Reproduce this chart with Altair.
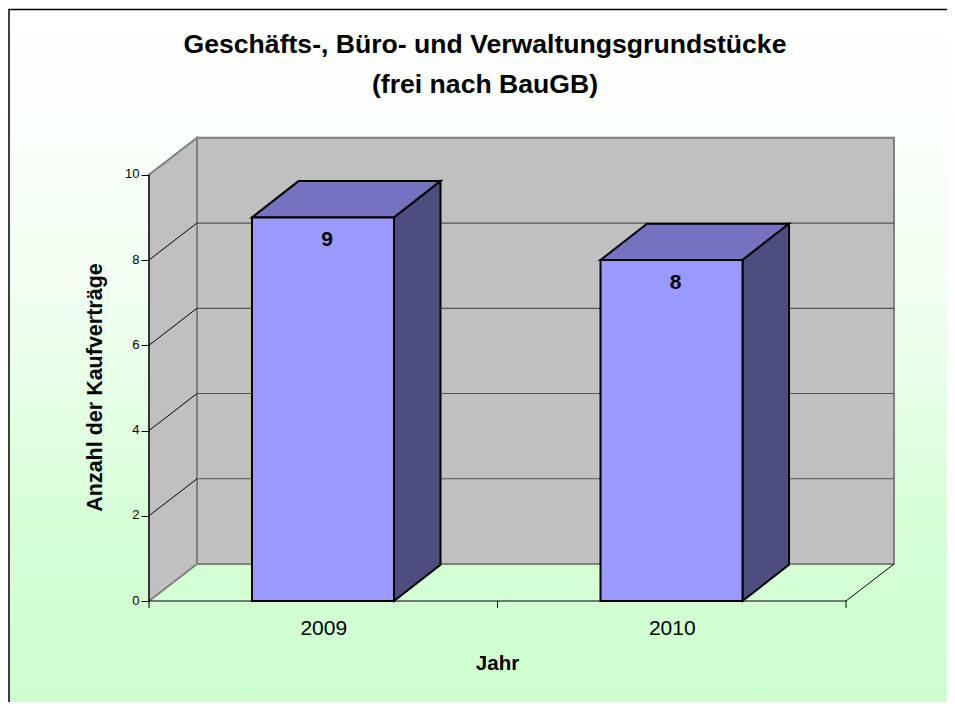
import altair as alt
import pandas as pd

years = ["2009", "2010"]
values = [9, 8]
y_ticks = [0, 2, 4, 6, 8, 10]
title_lines = ["Geschäfts-, Büro- und Verwaltungsgrundstücke", "(frei nach BauGB)"]
x_title = "Jahr"
y_title = "Anzahl der Kaufverträge"

# layout in pixels of the page
PX_X0, PX_Y0 = 149.0, 600.5
PX_CAT, PX_UNIT = 348.5, 42.62
W, H = 746, 464
PAD_L, PAD_T = 141, 129
TOTAL_W, TOTAL_H = 939, 694
DX, DY = 48.0 / PX_CAT, 37.0 / PX_UNIT
BDX, BDY = 46.5 / PX_CAT, 36.3 / PX_UNIT
BAR_START, BAR_W = 103.0 / PX_CAT, 142.0 / PX_CAT
n = len(years)
ymax = max(y_ticks)

xs = alt.Scale(domain=[0, W / PX_CAT], nice=False, zero=False)
ys = alt.Scale(domain=[0, H / PX_UNIT], nice=False, zero=False)

x_axis = alt.Axis(
    values=[i + 0.5 for i in range(n)],
    labelExpr="datum.value < 1 ? '%s' : '%s'" % (years[0], years[1]),
    ticks=False, domain=False, grid=False, labelFontSize=21,
    labelFont="Liberation Sans", labelColor="#000000", labelPadding=16,
    labelAngle=0, title=x_title, titleFont="Liberation Sans", titleFontSize=20.5,
    titleFontWeight="bold", titleColor="#000000", titleX=348, titleY=52,
    zindex=1,
)
y_axis = alt.Axis(
    values=y_ticks, tickSize=8, tickColor="#000000", domain=False, grid=False,
    labelFontSize=13, labelFont="Liberation Sans", labelColor="#000000",
    labelPadding=2, labelOffset=-1, title=y_title, titleFont="Liberation Sans",
    titleFontSize=21.5, titleFontWeight="bold", titleColor="#000000",
    titleX=-43, titleY=250, zindex=1,
)


def X():
    return alt.X("x:Q", scale=xs, axis=x_axis)


def Y():
    return alt.Y("y0:Q", scale=ys, stack=None, axis=y_axis)


def face(points, fill, stroke=None, width=0):
    df = pd.DataFrame(points, columns=["x", "y0", "y1"])
    kw = dict(fill=fill, orient="vertical", interpolate="linear")
    if stroke:
        kw.update(stroke=stroke, strokeWidth=width, strokeJoin="miter")
    return alt.Chart(df).mark_area(**kw).encode(X(), Y(), y2="y1:Q")


def line(points, color, width=1):
    df = pd.DataFrame(points, columns=["x", "y0"])
    return alt.Chart(df).mark_line(color=color, strokeWidth=width).encode(X(), Y())


gradient = alt.LinearGradient(
    gradient="linear", x1=0, y1=0, x2=0, y2=1,
    stops=[
        alt.GradientStop(color="#ffffff", offset=0),
        alt.GradientStop(color="#f2fff2", offset=0.38),
        alt.GradientStop(color="#d6ffd6", offset=0.73),
        alt.GradientStop(color="#ccffcc", offset=1),
    ],
)
bg_df = pd.DataFrame({
    "x": [(9 - PX_X0) / PX_CAT], "x2": [(965 - PX_X0) / PX_CAT],
    "y0": [(PX_Y0 - 9) / PX_UNIT], "y1": [(PX_Y0 - 720) / PX_UNIT],
})
background = alt.Chart(bg_df).mark_rect(
    fill=gradient, stroke="#000000", strokeWidth=1.5
).encode(X(), alt.Y("y0:Q", scale=ys, axis=y_axis), x2="x2:Q", y2="y1:Q")

xmax = float(n)
layers = [background]
GREY = "#808080"
WALL = "#c0c0c0"
FLOOR = "#d4ffd4"

# floor, walls
layers.append(face([[0, 0, 0], [DX, 0, DY], [xmax, 0, DY], [xmax + DX, DY, DY]], FLOOR))
layers.append(face([[0, 0, ymax], [DX, DY, ymax + DY]], WALL, GREY, 2))
layers.append(face([[DX, DY, ymax + DY], [xmax + DX, DY, ymax + DY]], WALL, GREY, 2))

# grid
for t in y_ticks[1:-1]:
    layers.append(line([[0, t], [DX, t + DY]], "#000000", 1))
    layers.append(line([[DX, t + DY], [xmax + DX, t + DY]], "#555555", 1.2))

# front edges, ticks
layers.append(line([[0, 0], [0, ymax]], "#000000", 1.2))
layers.append(line([[0, 0], [xmax, 0]], "#000000", 1.2))
layers.append(line([[xmax, 0], [xmax + DX, DY]], "#000000", 1))
for i in range(n + 1):
    layers.append(line([[float(i), 0], [float(i), -7 / PX_UNIT]], "#000000", 1))

# bars
for i, v in enumerate(values):
    a = i + BAR_START
    b = a + BAR_W
    layers.append(face([[a, v, v], [a + BDX, v, v + BDY], [b, v, v + BDY], [b + BDX, v + BDY, v + BDY]],
                       "#7373bf", "#000000", 2))
    layers.append(face([[b, 0, v], [b + BDX, BDY, v + BDY]], "#4d4d80", "#000000", 2))
    layers.append(face([[a, 0, v], [b, 0, v]], "#9999ff", "#000000", 2))

labels = pd.DataFrame({"x": [i + BAR_START + BAR_W / 2 for i in range(n)], "y0": values,
                       "t": [str(v) for v in values]})
layers.append(alt.Chart(labels).mark_text(
    font="Liberation Sans", fontWeight="bold", fontSize=21, color="#000000",
    dy=23, dx=4, baseline="middle", align="center",
).encode(X(), Y(), text="t:N"))

chart = alt.layer(*layers).properties(
    width=W, height=H,
    autosize=alt.AutoSizeParams(type="none"),
    padding={"left": PAD_L, "top": PAD_T, "right": TOTAL_W - PAD_L - W, "bottom": TOTAL_H - PAD_T - H},
    background="#ffffff",
    title=alt.TitleParams(
        text=title_lines, font="Liberation Sans", fontSize=26.6, fontWeight="bold",
        color="#000000", lineHeight=40, anchor="middle", dx=-37, offset=-90,
    ),
).configure_view(stroke=None)

chart.save("out.html", embed_options={"renderer": "svg", "actions": False})
